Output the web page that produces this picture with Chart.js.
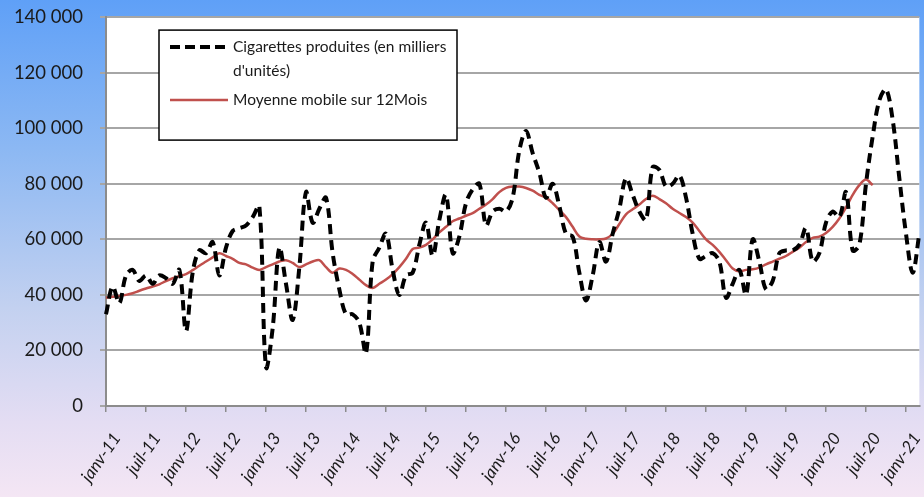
<!DOCTYPE html>
<html>
<head>
<meta charset="utf-8">
<script src="https://cdn.jsdelivr.net/npm/chart.js@4.4.0/dist/chart.umd.min.js"></script>
<style>
    html, body { margin: 0; padding: 0; overflow: hidden; }
    body {
        width: 924px; height: 497px;
        background: linear-gradient(to bottom, #5fa0f7 0%, #8cb8f3 30%, #c3d1f0 62%, #e4ddf3 85%, #f4e6f4 100%);
    }
    #wrap { position: relative; width: 940px; height: 508px; margin-top: -11px; }
</style>
</head>
<body>
<div id="wrap"><canvas id="myChart"></canvas></div>
<script>
// categories: janv-11 .. mars-21
const moisNoms = ['janv', 'févr', 'mars', 'avr', 'mai', 'juin', 'juil', 'août', 'sept', 'oct', 'nov', 'déc'];
const mois = [];
for (let an = 11; an <= 21; an++) {
    for (let m = 0; m < 12; m++) {
        if (an === 21 && m > 2) break;
        mois.push(moisNoms[m] + '-' + an);
    }
}

// Cigarettes produites (en milliers d'unités)
const cigarettes = [
    33000, 43000, 37000, 47000, 49000, 45000, 47000, 44000, 47000, 46000, 44000, 49000,
    27000, 48000, 56000, 55000, 59000, 47000, 57000, 63000, 64000, 65000, 68000, 72000,
    14000, 28000, 57000, 44000, 31000, 50000, 77000, 66000, 71000, 75000, 55000, 42000,
    33000, 33000, 30000, 19000, 52000, 57000, 62000, 49000, 40000, 47000, 48000, 58000,
    66000, 54000, 67000, 76000, 55000, 61000, 73000, 78000, 80000, 65000, 70000, 71000,
    70000, 75000, 92000, 99000, 91000, 84000, 75000, 80000, 72000, 62000, 61000, 48000,
    38000, 47000, 59000, 52000, 62000, 71000, 82000, 76000, 70000, 67000, 86000, 85000,
    79000, 80000, 83000, 75000, 62000, 53000, 54000, 55000, 52000, 39000, 44000, 49000,
    40000, 60000, 52000, 42000, 45000, 55000, 56000, 56000, 58000, 64000, 52000, 55000,
    66000, 70000, 68000, 77000, 56000, 58000, 80000, 97000, 110000, 114000, 103000, 82000,
    62000, 48000, 62000
];

// Moyenne mobile sur 12 mois
const moyenne = [
    39000, 39300, 39600, 40000, 40600, 41500, 42300, 43000, 43800, 45000, 46000, 46700,
    47500, 48900, 50500, 52000, 53500, 55000, 54000, 53000, 51500, 51000, 49800, 49000,
    50000, 51000, 52000, 52500, 51500, 50000, 51000, 52000, 52500, 50000, 48000, 49500,
    49000, 47500, 45500, 43500, 42500, 44000, 45500, 47500, 50000, 53000, 56500, 57000,
    58000, 60000, 62500, 64500, 66500, 67500, 68500, 69400, 71000, 72500, 74500, 77000,
    78500, 79000, 79000, 78500, 77500, 76000, 75000, 73000, 70500, 68000, 64500, 61000,
    60200, 60000, 60000, 60300, 62000, 65500, 69000, 70800, 72500, 74500, 75700, 74500,
    73000, 71000, 69500, 68000, 66000, 63000, 60000, 58000, 55500, 52500, 49500, 48500,
    49000, 49200, 49800, 51000, 52000, 53000, 54000, 55500, 57000, 59000, 60500, 61000,
    62300, 64500, 67500, 71500, 76000, 79500, 81500, 79500
];

const yTicks = [0, 20000, 40000, 60000, 80000, 100000, 120000, 140000];

const legendNames = ["Cigarettes produites (en milliers", "d'unités)", "Moyenne mobile sur 12Mois"];

function espaceMilliers(v) {
    return String(v).replace(/\B(?=(\d{3})+(?!\d))/g, ' ');
}

// white plot area
const plotBg = {
    id: 'plotBg',
    beforeDraw(chart) {
        const { ctx, chartArea: { left, top, width, height } } = chart;
        ctx.save();
        ctx.fillStyle = '#ffffff';
        ctx.fillRect(left, top, width, height);
        ctx.restore();
    }
};

// legend box inside the plot
const legendBox = {
    id: 'legendBox',
    afterDatasetsDraw(chart) {
        const { ctx, chartArea: { left, top } } = chart;
        const x = left + 53, y = top + 13, w = 298, h = 110;
        ctx.save();
        ctx.fillStyle = '#ffffff';
        ctx.fillRect(x, y, w, h);
        ctx.strokeStyle = '#000000';
        ctx.lineWidth = 1.5;
        ctx.strokeRect(x, y, w, h);

        ctx.lineWidth = 4;
        ctx.strokeStyle = '#000000';
        ctx.setLineDash([10, 5]);
        ctx.beginPath();
        ctx.moveTo(x + 11, y + 17);
        ctx.lineTo(x + 69, y + 17);
        ctx.stroke();

        ctx.setLineDash([]);
        ctx.lineWidth = 2.5;
        ctx.strokeStyle = '#c0504d';
        ctx.beginPath();
        ctx.moveTo(x + 11, y + 70);
        ctx.lineTo(x + 69, y + 70);
        ctx.stroke();

        ctx.fillStyle = '#1a1a1a';
        ctx.font = '15.5px Lato, "Open Sans", sans-serif';
        ctx.textBaseline = 'middle';
        ctx.textAlign = 'left';
        ctx.fillText(legendNames[0], x + 74, y + 17);
        ctx.fillText(legendNames[1], x + 74, y + 41);
        ctx.fillText(legendNames[2], x + 74, y + 70);
        ctx.restore();
    }
};

const ctx = document.getElementById('myChart').getContext('2d');
const myChart = new Chart(ctx, {
    type: 'line',
    data: {
        labels: mois,
        datasets: [{
            label: 'Cigarettes produites',
            data: cigarettes,
            borderColor: '#000000',
            borderWidth: 4,
            borderDash: [10, 6],
            pointRadius: 0,
            tension: 0.35,
            fill: false
        }, {
            label: 'Moyenne mobile sur 12Mois',
            data: moyenne,
            borderColor: '#c0504d',
            borderWidth: 2.5,
            pointRadius: 0,
            tension: 0.35,
            fill: false
        }]
    },
    options: {
        responsive: true,
        maintainAspectRatio: false,
        animation: false,
        layout: { padding: { top: 7, right: 17, left: 0, bottom: 0 } },
        plugins: {
            legend: { display: false },
            tooltip: { enabled: false }
        },
        scales: {
            x: {
                offset: false,
                grid: {
                    drawOnChartArea: false,
                    drawTicks: true,
                    tickLength: 6,
                    color: '#8c8c8c',
                    lineWidth: 1.5
                },
                border: { color: '#8c8c8c', width: 2 },
                ticks: {
                    autoSkip: false,
                    minRotation: 55,
                    maxRotation: 55,
                    padding: 17,
                    labelOffset: 11,
                    color: '#1a1a1a',
                    font: { family: 'Lato, "Open Sans", sans-serif', size: 17, style: 'italic' },
                    callback: function (value, index) {
                        if (index % 6 === 0) return this.getLabelForValue(value);
                        return null;
                    }
                },
                afterFit: function (scale) { scale.height = 91; }
            },
            y: {
                min: 0,
                max: 140000,
                afterBuildTicks: function (scale) {
                    scale.ticks = yTicks.map(v => ({ value: v }));
                },
                grid: {
                    color: '#a6a6a6',
                    lineWidth: 2,
                    tickLength: 6
                },
                border: { color: '#8c8c8c', width: 2 },
                ticks: {
                    padding: 17,
                    color: '#1a1a1a',
                    font: { family: 'Lato, "Open Sans", sans-serif', size: 18.5 },
                    callback: function (value) { return espaceMilliers(value); }
                },
                afterFit: function (scale) { scale.width = 106; }
            }
        }
    },
    plugins: [plotBg, legendBox]
});
</script>
</body>
</html>
